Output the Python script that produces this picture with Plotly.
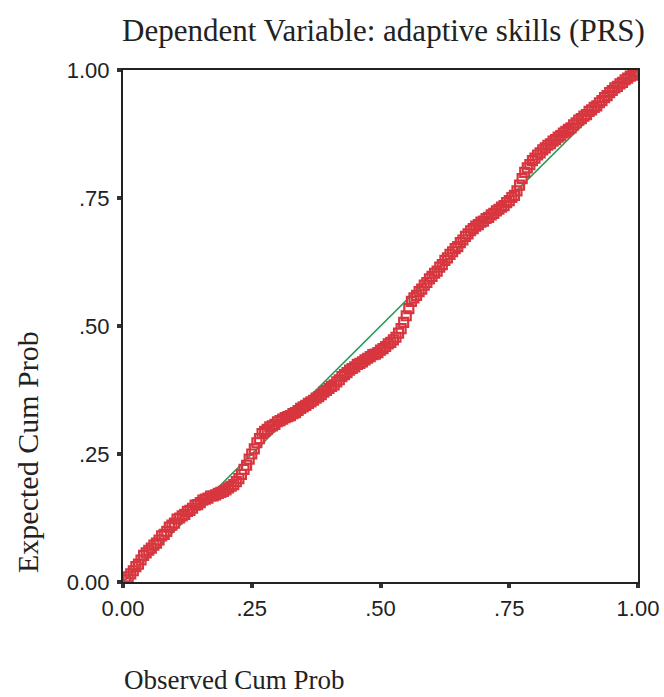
import plotly.graph_objects as go

# Observed cumulative probability (x) and expected cumulative probability (y)
observed_cum_prob = [
    0.005, 0.010, 0.015, 0.020, 0.025, 0.030, 0.035, 0.040, 0.045, 0.050,
    0.055, 0.060, 0.065, 0.070, 0.075, 0.080, 0.085, 0.090, 0.095, 0.100,
    0.105, 0.110, 0.115, 0.120, 0.125, 0.130, 0.135, 0.140, 0.145, 0.150,
    0.155, 0.160, 0.165, 0.170, 0.175, 0.180, 0.185, 0.190, 0.195, 0.200,
    0.205, 0.210, 0.215, 0.220, 0.225, 0.230, 0.235, 0.240, 0.245, 0.250,
    0.255, 0.260, 0.265, 0.270, 0.275, 0.280, 0.285, 0.290, 0.295, 0.300,
    0.305, 0.310, 0.315, 0.320, 0.325, 0.330, 0.335, 0.340, 0.345, 0.350,
    0.355, 0.360, 0.365, 0.370, 0.375, 0.380, 0.385, 0.390, 0.395, 0.400,
    0.405, 0.410, 0.415, 0.420, 0.425, 0.430, 0.435, 0.440, 0.445, 0.450,
    0.455, 0.460, 0.465, 0.470, 0.475, 0.480, 0.485, 0.490, 0.495, 0.500,
    0.505, 0.510, 0.515, 0.520, 0.525, 0.530, 0.535, 0.540, 0.545, 0.550,
    0.555, 0.560, 0.565, 0.570, 0.575, 0.580, 0.585, 0.590, 0.595, 0.600,
    0.605, 0.610, 0.615, 0.620, 0.625, 0.630, 0.635, 0.640, 0.645, 0.650,
    0.655, 0.660, 0.665, 0.670, 0.675, 0.680, 0.685, 0.690, 0.695, 0.700,
    0.705, 0.710, 0.715, 0.720, 0.725, 0.730, 0.735, 0.740, 0.745, 0.750,
    0.755, 0.760, 0.765, 0.770, 0.775, 0.780, 0.785, 0.790, 0.795, 0.800,
    0.805, 0.810, 0.815, 0.820, 0.825, 0.830, 0.835, 0.840, 0.845, 0.850,
    0.855, 0.860, 0.865, 0.870, 0.875, 0.880, 0.885, 0.890, 0.895, 0.900,
    0.905, 0.910, 0.915, 0.920, 0.925, 0.930, 0.935, 0.940, 0.945, 0.950,
    0.955, 0.960, 0.965, 0.970, 0.975, 0.980, 0.985, 0.990, 0.995, 1.000,
]
expected_cum_prob = [
    0.004, 0.010, 0.016, 0.022, 0.030, 0.035, 0.043, 0.052, 0.057, 0.062,
    0.066, 0.072, 0.076, 0.082, 0.090, 0.093, 0.099, 0.107, 0.111, 0.115,
    0.123, 0.125, 0.129, 0.132, 0.138, 0.140, 0.144, 0.150, 0.151, 0.155,
    0.160, 0.162, 0.164, 0.168, 0.168, 0.170, 0.173, 0.175, 0.177, 0.180,
    0.184, 0.187, 0.190, 0.196, 0.202, 0.210, 0.220, 0.228, 0.240, 0.250,
    0.260, 0.272, 0.280, 0.290, 0.294, 0.298, 0.303, 0.305, 0.308, 0.313,
    0.315, 0.318, 0.321, 0.323, 0.325, 0.329, 0.331, 0.335, 0.339, 0.342,
    0.345, 0.349, 0.352, 0.355, 0.359, 0.362, 0.366, 0.371, 0.374, 0.378,
    0.382, 0.385, 0.391, 0.395, 0.401, 0.405, 0.409, 0.414, 0.417, 0.420,
    0.425, 0.427, 0.430, 0.434, 0.437, 0.440, 0.444, 0.445, 0.448, 0.453,
    0.456, 0.460, 0.465, 0.468, 0.473, 0.478, 0.486, 0.495, 0.507, 0.520,
    0.534, 0.548, 0.555, 0.560, 0.567, 0.572, 0.580, 0.585, 0.592, 0.597,
    0.603, 0.607, 0.615, 0.620, 0.628, 0.633, 0.640, 0.645, 0.651, 0.655,
    0.663, 0.668, 0.675, 0.680, 0.686, 0.690, 0.695, 0.698, 0.703, 0.705,
    0.710, 0.712, 0.717, 0.720, 0.725, 0.728, 0.732, 0.735, 0.741, 0.745,
    0.751, 0.755, 0.764, 0.775, 0.788, 0.800, 0.809, 0.815, 0.823, 0.828,
    0.834, 0.838, 0.844, 0.848, 0.853, 0.856, 0.861, 0.864, 0.869, 0.872,
    0.877, 0.880, 0.884, 0.887, 0.893, 0.897, 0.902, 0.905, 0.910, 0.913,
    0.919, 0.922, 0.927, 0.930, 0.936, 0.940, 0.946, 0.950, 0.956, 0.960,
    0.965, 0.968, 0.973, 0.976, 0.981, 0.984, 0.988, 0.990, 0.995, 0.998,
]
diag = [0, 1]
tick_vals = [0, 0.25, 0.5, 0.75, 1.0]
x_tick_text = ["0.00", ".25", ".50", ".75", "1.00"]
y_tick_text = ["0.00", ".25", ".50", ".75", "1.00"]

fig = go.Figure()
fig.add_trace(go.Scatter(x=diag, y=diag, mode="lines",
                         line=dict(color="#2e9b5c", width=1.6),
                         hoverinfo="skip", showlegend=False))
fig.add_trace(go.Scatter(x=observed_cum_prob, y=expected_cum_prob, mode="markers",
                         marker=dict(symbol="square-open", size=9,
                                     color="#d8363f", line=dict(width=2.2, color="#d8363f")),
                         showlegend=False))

axis_common = dict(range=[0, 1], showgrid=False, zeroline=False,
                   showline=True, linecolor="#222", linewidth=2, mirror=True,
                   ticks="outside", ticklen=4, tickwidth=4, tickcolor="#333",
                   tickfont=dict(family="Liberation Sans, Arial", size=22, color="#222"),
                   tickvals=tick_vals, automargin=False)

fig.update_xaxes(**axis_common, ticktext=x_tick_text, ticklabelstandoff=2)
fig.update_yaxes(**axis_common, ticktext=y_tick_text, ticklabelstandoff=3)

serif = "Liberation Serif, Times New Roman, serif"
fig.update_layout(
    width=664, height=697,
    margin=dict(l=123, r=26, t=70, b=115),
    plot_bgcolor="white", paper_bgcolor="white",
    annotations=[
        dict(text="Dependent Variable: adaptive skills (PRS)", xref="paper", yref="paper",
             x=0.505, y=1, yshift=40, xanchor="center", yanchor="middle", showarrow=False,
             font=dict(family=serif, size=31, color="#222")),
        dict(text="Expected Cum Prob", xref="paper", yref="paper",
             x=0, xshift=-95, y=0.254, xanchor="center", yanchor="middle", textangle=-90,
             showarrow=False, font=dict(family=serif, size=30, color="#222")),
        dict(text="Observed Cum Prob", xref="paper", yref="paper",
             x=0, xshift=-1, y=0, yshift=-98, xanchor="left", yanchor="middle", showarrow=False,
             font=dict(family=serif, size=27, color="#222")),
    ],
)

fig.write_html("out.html", config={"displayModeBar": False},
               post_script="document.body.style.margin='0';document.body.style.overflow='hidden';")
